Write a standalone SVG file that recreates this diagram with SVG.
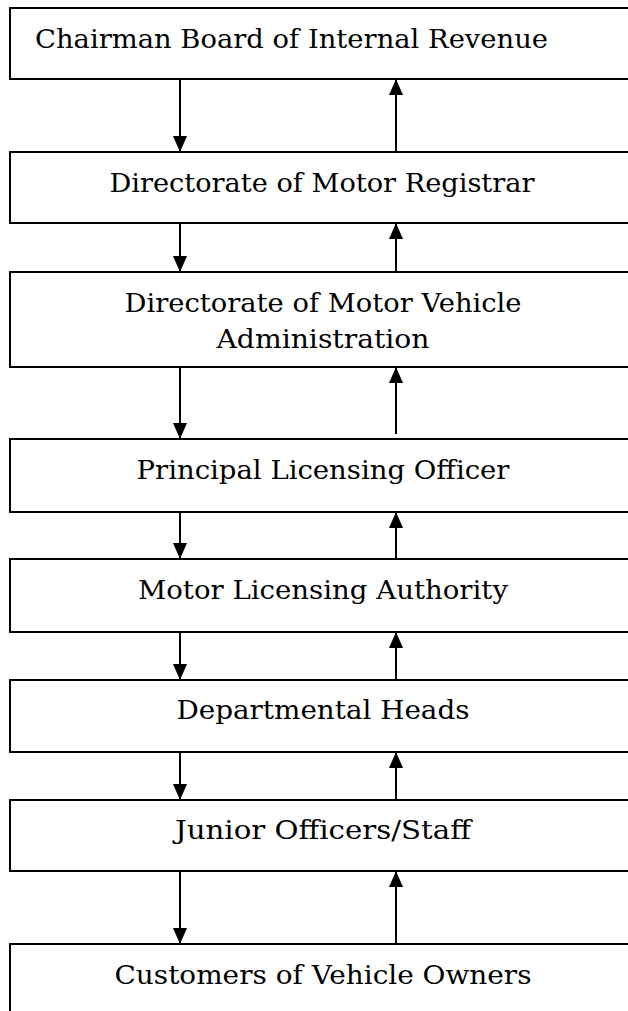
<svg xmlns="http://www.w3.org/2000/svg" width="628" height="1011" viewBox="0 0 628 1011">
<style>
.box{fill:#fff;stroke:#000;stroke-width:2}
.t{font-family:"DejaVu Serif","Liberation Serif",serif;font-size:26px;fill:#000}
.c{text-anchor:middle}
.con line{stroke:#000;stroke-width:2;marker-end:url(#ah)}
</style>
<defs>
<marker id="ah" viewBox="0 0 16 14" refX="16" refY="7" markerWidth="16" markerHeight="14" markerUnits="userSpaceOnUse" orient="auto">
<path d="M0,0 L16,7 L0,14 z" fill="#000"/>
</marker>
</defs>
<rect width="628" height="1011" fill="#fff"/>
<g id="n1"><rect class="box" x="10" y="8" width="640" height="71"/><text class="t" x="35" y="48" textLength="513" lengthAdjust="spacingAndGlyphs">Chairman Board of Internal Revenue</text></g>
<g id="n2"><rect class="box" x="10" y="152" width="640" height="71"/><text class="t c" x="322" y="192" textLength="425" lengthAdjust="spacingAndGlyphs">Directorate of Motor Registrar</text></g>
<g id="n3"><rect class="box" x="10" y="272" width="640" height="95"/><text class="t c" x="323" y="312" textLength="397" lengthAdjust="spacingAndGlyphs">Directorate of Motor Vehicle</text><text class="t c" x="323" y="348" textLength="213" lengthAdjust="spacingAndGlyphs">Administration</text></g>
<g id="n4"><rect class="box" x="10" y="439" width="640" height="73"/><text class="t c" x="323" y="479" textLength="373" lengthAdjust="spacingAndGlyphs">Principal Licensing Officer</text></g>
<g id="n5"><rect class="box" x="10" y="559" width="640" height="73"/><text class="t c" x="323" y="599" textLength="370" lengthAdjust="spacingAndGlyphs">Motor Licensing Authority</text></g>
<g id="n6"><rect class="box" x="10" y="680" width="640" height="72"/><text class="t c" x="323" y="719" textLength="293" lengthAdjust="spacingAndGlyphs">Departmental Heads</text></g>
<g id="n7"><rect class="box" x="10" y="800" width="640" height="71"/><text class="t c" x="323" y="839" textLength="296" lengthAdjust="spacingAndGlyphs">Junior Officers/Staff</text></g>
<g id="n8"><rect class="box" x="10" y="944" width="640" height="100"/><text class="t c" x="323" y="984" textLength="417" lengthAdjust="spacingAndGlyphs">Customers of Vehicle Owners</text></g>
<g id="connectors" class="con">
<line x1="180" y1="79" x2="180" y2="152"/><line x1="396" y1="152" x2="396" y2="79"/>
<line x1="180" y1="223" x2="180" y2="272"/><line x1="396" y1="272" x2="396" y2="223"/>
<line x1="180" y1="367" x2="180" y2="439"/><line x1="396" y1="434" x2="396" y2="367"/>
<line x1="180" y1="512" x2="180" y2="559"/><line x1="396" y1="559" x2="396" y2="512"/>
<line x1="180" y1="632" x2="180" y2="680"/><line x1="396" y1="680" x2="396" y2="632"/>
<line x1="180" y1="752" x2="180" y2="800"/><line x1="396" y1="800" x2="396" y2="752"/>
<line x1="180" y1="871" x2="180" y2="944"/><line x1="396" y1="944" x2="396" y2="871"/>
</g>
</svg>
